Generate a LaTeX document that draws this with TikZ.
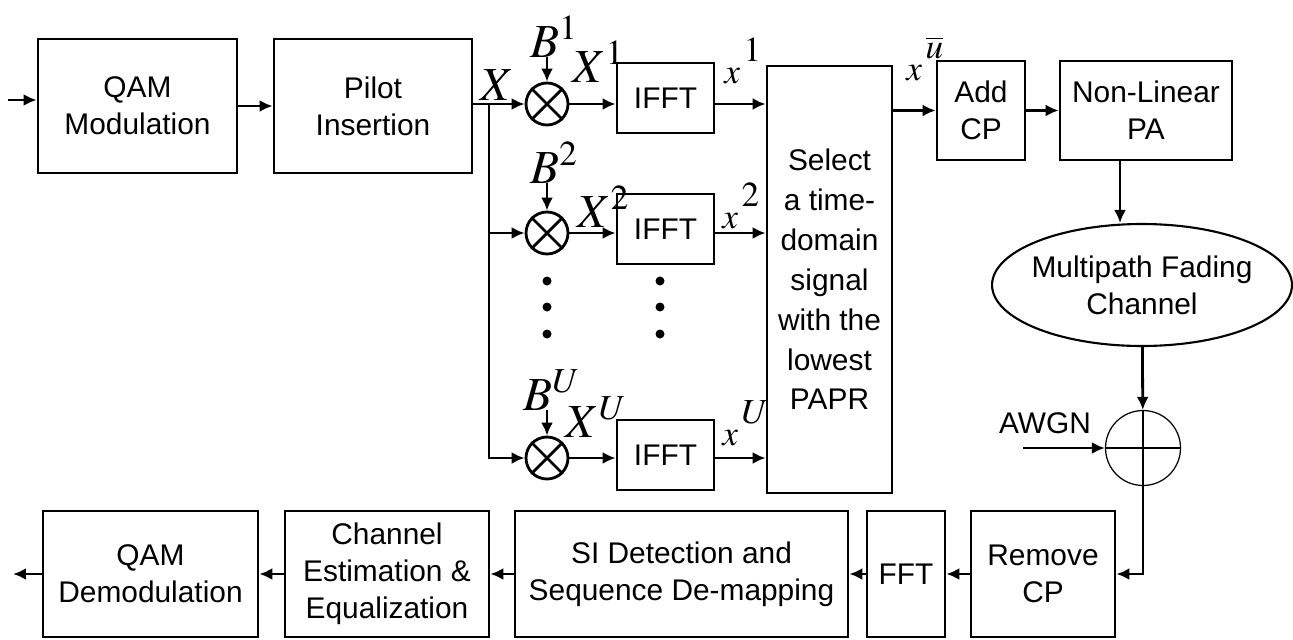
\documentclass[tikz,border=0pt]{standalone}
\usepackage{mathptmx}
\usepackage[no-math]{fontspec}
\setmainfont{Liberation Sans}
\usetikzlibrary{arrows.meta,shapes.geometric}

\newcommand{\xsig}[1]{$x$\hspace{0.1em}\raisebox{0.6em}{$#1$}}

\begin{document}
\begin{tikzpicture}
		[x=0.02cm, y=-0.02cm,
		font=\fontsize{17}{21}\selectfont,
		block/.style ={rectangle, draw=black, line width=1.6pt, align=center, inner sep=0pt},
		mult/.style ={circle, draw=black, line width=1.6pt, minimum size=0.84cm, inner sep=0pt},
		line/.style ={draw, line width=1.6pt, -{Latex[length=0.26cm, width=0.24cm]}},
		sym/.style = {inner sep=0pt, anchor=base west, font=\fontsize{27}{27}\selectfont},
		sig/.style = {inner sep=0pt, anchor=base west, font=\fontsize{20}{20}\selectfont},
		]
		\useasboundingbox (0,0) rectangle (1293,639);

		% transmitter
		\draw (137.5,106) node[block, minimum width=3.98cm, minimum height=2.68cm] (qam) {QAM\\Modulation};
		\draw (373,106) node[block, minimum width=3.96cm, minimum height=2.68cm] (pilot) {Pilot\\Insertion};
		\draw (547,104) node[mult] (m1) {};
		\draw (547,233) node[mult] (m2) {};
		\draw (547,458) node[mult] (mU) {};
		\draw (665.5,98) node[block, minimum width=1.94cm, minimum height=1.4cm] (ifft1) {IFFT};
		\draw (665.5,229) node[block, minimum width=1.94cm, minimum height=1.4cm] (ifft2) {IFFT};
		\draw (665.5,455) node[block, minimum width=1.94cm, minimum height=1.4cm] (ifftU) {IFFT};
		\draw (829.5,279.5) node[block, minimum width=2.5cm, minimum height=8.54cm, font=\fontsize{17}{22.7}\selectfont] (sel) {Select\\a time-\\domain\\signal\\with the\\lowest\\PAPR};
		\draw (981,110.5) node[block, minimum width=1.76cm, minimum height=1.98cm] (addcp) {Add\\CP};
		\draw (1146,110.5) node[block, minimum width=3.44cm, minimum height=1.98cm] (pa) {Non-Linear\\PA};

		% channel
		\draw (1142,285) node[ellipse, draw=black, line width=1.2pt, align=center, inner xsep=-0.1cm, inner ysep=0pt, minimum width=6cm, minimum height=2.44cm] (ch) {Multipath Fading\\Channel};
		\draw (1143,448) node[circle, draw=black, line width=0.7pt, minimum size=1.5cm, inner sep=0pt] (add) {};
		\draw (1045,423) node (awgn) {AWGN};

		% receiver
		\draw (1043,574) node[block, minimum width=2.88cm, minimum height=2.52cm] (rmcp) {Remove\\CP};
		\draw (906,574) node[block, minimum width=1.56cm, minimum height=2.52cm] (fft) {FFT};
		\draw (681.5,574) node[block, minimum width=6.66cm, minimum height=2.52cm] (sidet) {SI Detection and\\Sequence De-mapping};
		\draw (387,574) node[block, minimum width=4.08cm, minimum height=2.52cm] (chest) {Channel\\Estimation \&\\Equalization};
		\draw (150.5,574) node[block, minimum width=4.3cm, minimum height=2.52cm] (qamd) {QAM\\Demodulation};

		% signal labels
		\draw (480,100) node[sym] (lX) {$X$};
		\draw (530,57) node[sym] (lB1) {$B^1$};
		\draw (572,82) node[sym] (lX1) {$X^1$};
		\draw (724,83) node[sig] (lx1) {\xsig{1}};
		\draw (530,183) node[sym] (lB2) {$B^2$};
		\draw (577,227) node[sym] (lX2) {$X^2$};
		\draw (722,228) node[sig] (lx2) {\xsig{2}};
		\draw (523,410) node[sym] (lBU) {$B^U$};
		\draw (565,437) node[sym] (lXU) {$X^U$};
		\draw (722,445) node[sig] (lxU) {\xsig{U}};
		\draw (906,80) node[sig] (lxs) {\xsig{\overline{u}}};

		\coordinate (in) at (8,100);
		\coordinate (br) at (489,104);
		\coordinate (nz) at (1023,448);
		\coordinate (out) at (13,574);

		\foreach \m in {m1,m2,mU}
		\draw[line width=1.6pt] (\m.north east) -- (\m.south west) (\m.north west) -- (\m.south east);
		\draw[line width=0.7pt] (add.north) -- (add.south) (add.west) -- (add.east);
		\foreach \y in {281,307,334}
		\fill (547,\y) circle (0.09cm) (660,\y) circle (0.09cm);

		\path[every edge/.style=line]
		(in) edge (in -| qam.west)
		(qam) edge (pilot)
		(pilot.east |- m1) edge (m1)
		(br |- m2) edge (m2)
		(lB1.south -| m1) edge (m1)
		(lB2.south -| m2) edge (m2)
		(lBU.south -| mU) edge (mU)
		(m1) edge (m1 -| ifft1.west)
		(m2) edge (m2 -| ifft2.west)
		(mU) edge (mU -| ifftU.west)
		(ifft1.east |- m1) edge (m1 -| sel.west)
		(ifft2.east |- m2) edge (m2 -| sel.west)
		(ifftU.east |- mU) edge (mU -| sel.west)
		(sel.east |- addcp) edge (addcp)
		(addcp) edge (pa)
		([xshift=-0.52cm]pa.south) edge ([xshift=-0.52cm]pa.south |- ch.north)
		(ch) edge (add)
		(nz) edge (add)
		(rmcp) edge (fft)
		(fft) edge (sidet)
		(sidet) edge (chest)
		(chest) edge (qamd)
		(qamd) edge (out);
		\draw[line] (br) |- (mU);
		\draw[line] (add) |- (rmcp);
	\end{tikzpicture}
\end{document}
